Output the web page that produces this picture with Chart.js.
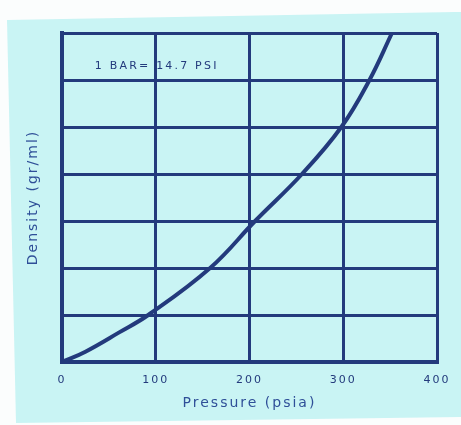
<!DOCTYPE html>
<html>
<head>
<meta charset="utf-8">
<script src="https://cdn.jsdelivr.net/npm/chart.js@4/dist/chart.umd.min.js"></script>
<style>
    html, body { margin: 0; padding: 0; background: #fbfdfd; }
    #wrap { position: relative; width: 461px; height: 425px; }
</style>
</head>
<body>
<div id="wrap"><canvas id="chart" width="461" height="425"></canvas></div>
<script>
// Values (curve crossings of the grid)
const pressure = [0, 25, 61, 92, 158, 206, 256, 298, 328, 352];
const density = [0, 0.22, 0.63, 1, 2, 3, 4, 5, 6, 7];
const xTicks = [0, 100, 200, 300, 400];
const noteText = '1 BAR= 14.7 PSI';
const notePos = [35, 6.3];

const INK = '#233a7c';
const LABEL = '#2f4f98';
const PAPER = '#c9f4f4';

// scanned sheet background (slightly skewed)
const paperPlugin = {
    id: 'paper',
    beforeDraw(chart) {
        const ctx = chart.ctx;
        ctx.save();
        ctx.fillStyle = '#fbfdfd';
        ctx.fillRect(0, 0, chart.width, chart.height);
        ctx.fillStyle = PAPER;
        ctx.beginPath();
        ctx.moveTo(7, 20);
        ctx.lineTo(455, 12);
        ctx.lineTo(461, 12);
        ctx.lineTo(461, 417);
        ctx.lineTo(16, 423);
        ctx.closePath();
        ctx.fill();
        ctx.restore();
        ctx.letterSpacing = '2px';
    }
};

// "1 BAR= 14.7 PSI" note inside the plot
const notePlugin = {
    id: 'note',
    afterDraw(chart) {
        const ctx = chart.ctx;
        const x = chart.scales.x.getPixelForValue(notePos[0]);
        const y = chart.scales.y.getPixelForValue(notePos[1]);
        ctx.save();
        ctx.letterSpacing = '2.2px';
        ctx.font = '11px "DejaVu Sans"';
        ctx.fillStyle = INK;
        ctx.textBaseline = 'middle';
        ctx.textAlign = 'left';
        ctx.fillText(noteText, x, y);
        ctx.restore();
    }
};

const ctx = document.getElementById('chart').getContext('2d');
new Chart(ctx, {
    type: 'line',
    data: {
        datasets: [{
            data: pressure.map((p, i) => ({ x: p, y: density[i] })),
            borderColor: INK,
            borderWidth: 4,
            pointRadius: 0,
            fill: false,
            tension: 0.4
        }]
    },
    options: {
        responsive: false,
        animation: false,
        devicePixelRatio: 1,
        layout: { padding: { top: 33, right: 24, left: 25, bottom: 6 } },
        plugins: {
            legend: { display: false },
            tooltip: { enabled: false }
        },
        scales: {
            x: {
                type: 'linear',
                min: 0,
                max: 400,
                afterBuildTicks: scale => { scale.ticks = xTicks.map(v => ({ value: v })); },
                afterFit: scale => { scale.height = 57; },
                grid: { color: INK, lineWidth: 3, drawTicks: false },
                border: { color: INK, width: 4 },
                ticks: { color: INK, font: { family: 'DejaVu Sans', size: 11 }, padding: 12 },
                title: {
                    display: true,
                    text: 'Pressure (psia)',
                    color: LABEL,
                    font: { family: 'DejaVu Sans', size: 14 },
                    padding: { top: 0, bottom: 7 }
                }
            },
            y: {
                min: 0,
                max: 7,
                ticks: { display: false, stepSize: 1 },
                afterFit: scale => { scale.width = 37; },
                grid: { color: INK, lineWidth: 3, drawTicks: false },
                border: { color: INK, width: 4 },
                title: {
                    display: true,
                    text: 'Density (gr/ml)',
                    color: LABEL,
                    font: { family: 'DejaVu Sans', size: 14 },
                    padding: { top: 0, bottom: 0 }
                }
            }
        }
    },
    plugins: [paperPlugin, notePlugin]
});
</script>
</body>
</html>
